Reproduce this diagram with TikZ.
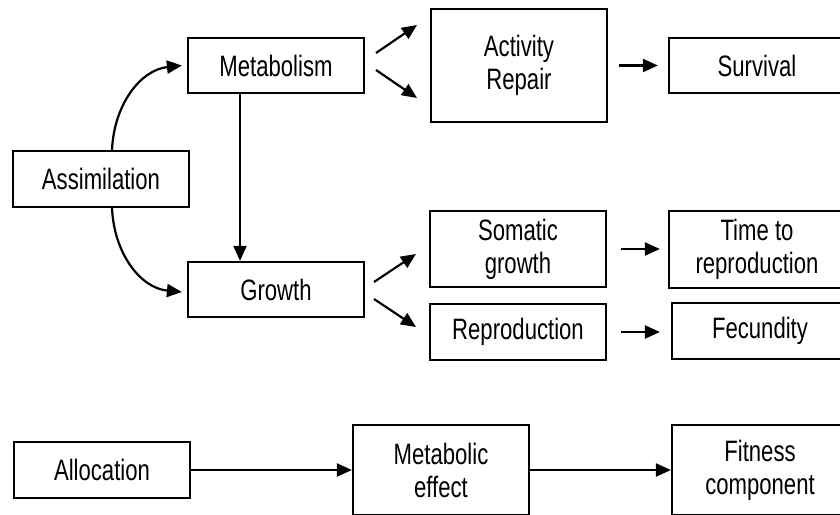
\documentclass[tikz,border=0pt]{standalone}
\usepackage{fontspec}
\setmainfont{Liberation Sans}[FakeStretch=0.75]
\usetikzlibrary{arrows.meta,calc}
\begin{document}
\begin{tikzpicture}[x=1pt,y=-1pt,
  box/.style={draw,line width=2.2pt,inner sep=0pt,align=center,minimum width=176pt,
    font=\fontsize{29.5}{33}\selectfont},
  arr/.style={line width=2.2pt,-{Triangle[length=15pt,width=13pt]}}]
\clip (0,0) rectangle (840,514);
\fill[white] (0,0) rectangle (840,514);
% nodes
\node[box,minimum height=56pt] (assim) at (101,179) {Assimilation};
\node[box,minimum height=55pt] (metab) at (276,65.5) {Metabolism};
\node[box,minimum height=55pt] (growth) at (276,289.5) {Growth};
\node[box,minimum height=113pt] (act) at (519,65.5) {Activity\\Repair};
\node[box,minimum height=55pt] (surv) at (757,65.5) {Survival};
\node[box,minimum height=76pt] (soma) at (518,249) {Somatic\\growth};
\node[box,minimum height=77pt] (time) at (757,249.5) {Time to\\reproduction};
\node[box,minimum height=56pt] (repr) at (518,332) {Reproduction};
\node[box,minimum height=56pt] (fec) at (760,331) {Fecundity};
\node[box,minimum height=56pt] (alloc) at (102,470) {Allocation};
\node[box,minimum height=90pt] (meff) at (441,470) {Metabolic\\effect};
\node[box,minimum height=90pt] (fit) at (760,470) {Fitness\\component};
% coordinates
\coordinate (vx) at (240,0);
\coordinate (m1s) at (376,53);  \coordinate (m1e) at (417,25);
\coordinate (m2s) at (376,70);  \coordinate (m2e) at (417,98);
\coordinate (g1s) at (374,282); \coordinate (g1e) at (416,254);
\coordinate (g2s) at (374,299); \coordinate (g2e) at (416,327);
% connectors
\draw[arr] ($(assim.north)+(11,0)$) .. controls (114,105) and (140,70) .. ($(metab.west)+(-5,0)$);
\draw[arr] ($(assim.south)+(11,0)$) .. controls (114,253) and (140,288) .. ($(growth.west)+(-5,2.5)$);
\draw[arr] (metab.south -| vx) -- (growth.north -| vx);
\draw[arr] (m1s) -- (m1e);
\draw[arr] (m2s) -- (m2e);
\draw[arr] (g1s) -- (g1e);
\draw[arr] (g2s) -- (g2e);
\draw[arr,shorten <=11pt,shorten >=10pt] (act.east) -- (surv.west);
\draw[arr,shorten <=14pt,shorten >=8pt] (soma.east) -- (soma.east -| time.west);
\draw[arr,shorten <=14pt,shorten >=11pt] (repr.east) -- (repr.east -| fec.west);
\draw[arr] (alloc.east) -- (meff.west);
\draw[arr] (meff.east) -- (fit.west);
\end{tikzpicture}
\end{document}
